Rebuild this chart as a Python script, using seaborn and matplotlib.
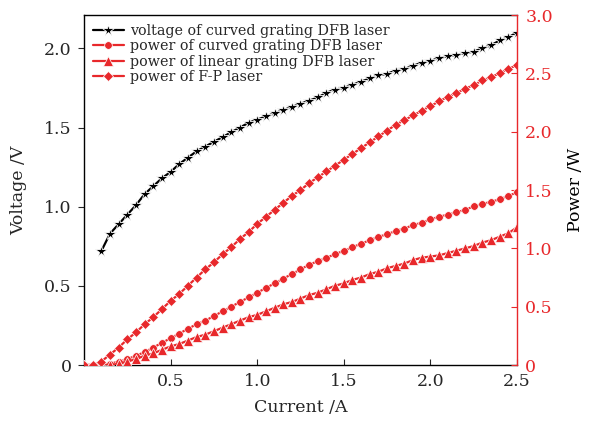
import numpy as np
import pandas as pd
import matplotlib
matplotlib.use("Agg")
import matplotlib.pyplot as plt
import seaborn as sns

# ---- data ----
current_v = [0.10, 0.15, 0.20, 0.25, 0.30, 0.35, 0.40, 0.45, 0.50, 0.55, 0.60, 0.65, 0.70, 0.75,
             0.80, 0.85, 0.90, 0.95, 1.00, 1.05, 1.10, 1.15, 1.20, 1.25, 1.30, 1.35, 1.40, 1.45,
             1.50, 1.55, 1.60, 1.65, 1.70, 1.75, 1.80, 1.85, 1.90, 1.95, 2.00, 2.05, 2.10, 2.15,
             2.20, 2.25, 2.30, 2.35, 2.40, 2.45, 2.50]
voltage_curved = [0.72, 0.83, 0.89, 0.95, 1.01, 1.08, 1.13, 1.18, 1.22, 1.27, 1.31, 1.35, 1.38, 1.41,
                  1.44, 1.47, 1.50, 1.53, 1.55, 1.57, 1.59, 1.61, 1.63, 1.65, 1.67, 1.69, 1.72, 1.74,
                  1.75, 1.77, 1.79, 1.81, 1.83, 1.84, 1.86, 1.87, 1.89, 1.91, 1.92, 1.94, 1.95, 1.96,
                  1.97, 1.98, 2.00, 2.02, 2.05, 2.07, 2.10]

current_p = [0.00, 0.05, 0.10, 0.15, 0.20, 0.25, 0.30, 0.35, 0.40, 0.45, 0.50, 0.55, 0.60, 0.65,
             0.70, 0.75, 0.80, 0.85, 0.90, 0.95, 1.00, 1.05, 1.10, 1.15, 1.20, 1.25, 1.30, 1.35,
             1.40, 1.45, 1.50, 1.55, 1.60, 1.65, 1.70, 1.75, 1.80, 1.85, 1.90, 1.95, 2.00, 2.05,
             2.10, 2.15, 2.20, 2.25, 2.30, 2.35, 2.40, 2.45, 2.50]
power_curved = [0.00, 0.00, 0.00, 0.01, 0.03, 0.05, 0.08, 0.11, 0.15, 0.19, 0.23, 0.27, 0.31, 0.35,
                0.38, 0.42, 0.46, 0.50, 0.54, 0.58, 0.62, 0.66, 0.70, 0.74, 0.78, 0.82, 0.86, 0.89,
                0.92, 0.95, 0.98, 1.01, 1.04, 1.07, 1.10, 1.12, 1.15, 1.17, 1.20, 1.22, 1.25, 1.27,
                1.29, 1.31, 1.33, 1.36, 1.38, 1.40, 1.42, 1.45, 1.48]
power_linear = [0.00, 0.00, 0.00, 0.00, 0.01, 0.03, 0.05, 0.08, 0.10, 0.13, 0.16, 0.18, 0.21, 0.24,
                0.26, 0.29, 0.32, 0.35, 0.38, 0.41, 0.43, 0.46, 0.49, 0.52, 0.54, 0.57, 0.60, 0.62,
                0.65, 0.68, 0.70, 0.73, 0.75, 0.78, 0.80, 0.83, 0.85, 0.87, 0.90, 0.92, 0.93, 0.94,
                0.96, 0.98, 1.00, 1.02, 1.05, 1.07, 1.10, 1.13, 1.18]
power_fp = [0.00, 0.00, 0.03, 0.09, 0.15, 0.22, 0.28, 0.35, 0.41, 0.48, 0.55, 0.61, 0.68, 0.75,
            0.82, 0.88, 0.95, 1.01, 1.08, 1.14, 1.21, 1.27, 1.33, 1.39, 1.45, 1.50, 1.56, 1.61,
            1.66, 1.71, 1.76, 1.81, 1.86, 1.91, 1.96, 2.01, 2.06, 2.10, 2.14, 2.18, 2.22, 2.26,
            2.30, 2.33, 2.37, 2.40, 2.44, 2.47, 2.50, 2.54, 2.57]

labels = ["voltage of curved grating DFB laser",
          "power of curved grating DFB laser",
          "power of linear grating DFB laser",
          "power of F-P laser"]
x_ticks = [0.5, 1.0, 1.5, 2.0, 2.5]
v_ticks = [0, 0.5, 1.0, 1.5, 2.0]
v_ticklabels = ["0", "0.5", "1.0", "1.5", "2.0"]
p_ticks = [0, 0.5, 1.0, 1.5, 2.0, 2.5, 3.0]
p_ticklabels = ["0", "0.5", "1.0", "1.5", "2.0", "2.5", "3.0"]

# ---- style ----
sns.set_style("ticks")
plt.rcParams['font.family'] = ['DejaVu Serif']
RED = '#e8282b'

fig = plt.figure(figsize=(5.98, 4.21), dpi=100)
ax = fig.add_axes([0.1405, 0.133, 0.724, 0.831])
ax2 = ax.twinx()

dfv = pd.DataFrame({"I": current_v, "V": voltage_curved})
dfp = pd.DataFrame({"I": current_p, "curved": power_curved, "linear": power_linear, "fp": power_fp})

LW = 1.6
sns.lineplot(data=dfv, x="I", y="V", ax=ax, color="black", marker="*", markersize=8.5,
             markeredgewidth=0.6, linewidth=LW, label=labels[0], legend=False)
sns.lineplot(data=dfp, x="I", y="curved", ax=ax2, color=RED, marker="o", markersize=5.5,
             markeredgewidth=0.5, linewidth=LW, label=labels[1], legend=False)
sns.lineplot(data=dfp, x="I", y="linear", ax=ax2, color=RED, marker="^", markersize=6.5,
             markeredgewidth=0.5, linewidth=LW, label=labels[2], legend=False)
sns.lineplot(data=dfp, x="I", y="fp", ax=ax2, color=RED, marker="D", markersize=5,
             markeredgewidth=0.5, linewidth=LW, label=labels[3], legend=False)

ax.set_xlim(0, 2.5)
ax.set_ylim(0, 2.21)
ax2.set_ylim(0, 3.0)
ax.set_xticks(x_ticks)
ax.set_xticklabels([f"{t:.1f}" for t in x_ticks])
ax.set_yticks(v_ticks)
ax.set_yticklabels(v_ticklabels)
ax2.set_yticks(p_ticks)
ax2.set_yticklabels(p_ticklabels)

ax.tick_params(axis='x', direction='in', length=4, labelsize=12.5, pad=6)
ax.tick_params(axis='y', direction='out', length=4, labelsize=12.5, pad=5)
ax2.tick_params(axis='y', direction='in', length=4, labelsize=12.5, colors=RED, pad=6)
ax2.spines['right'].set_color(RED)
for sp in ['left', 'top', 'bottom']:
    ax.spines[sp].set_color('black')
    ax2.spines[sp].set_visible(False)
ax.spines['right'].set_visible(False)
for a in (ax, ax2):
    for sp in a.spines.values():
        sp.set_linewidth(1.0)

ax.set_xlabel("Current /A", fontsize=12.5, labelpad=6)
ax.set_ylabel("Voltage /V", fontsize=12.5, labelpad=12)
ax2.set_ylabel("Power /W", fontsize=12.5, labelpad=10, color='black')

h1, l1 = ax.get_legend_handles_labels()
h2, l2 = ax2.get_legend_handles_labels()
leg = ax2.legend(h1 + h2, l1 + l2, loc='upper left', frameon=False, fontsize=10.3,
                 handlelength=2.2, handletextpad=0.4, labelspacing=0.1,
                 borderaxespad=0.2, bbox_to_anchor=(0.0, 1.0))

fig.savefig("out.png", dpi=100)
